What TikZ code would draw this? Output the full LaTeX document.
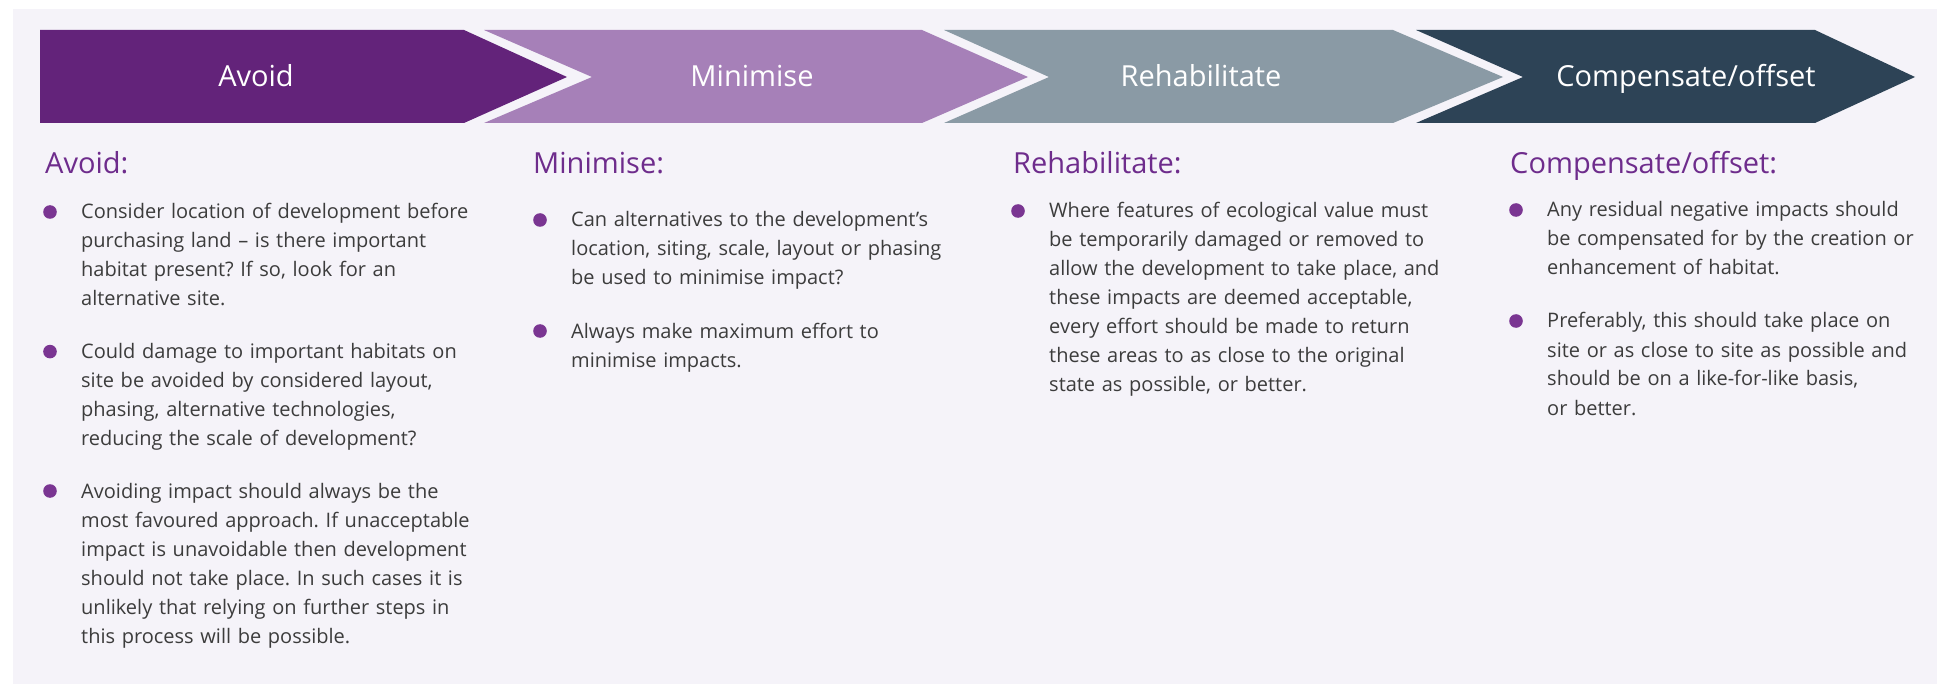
\documentclass[tikz,border=0pt]{standalone}
\usepackage{fontspec}
\setmainfont{Open Sans}
\usepackage{tikz}
\frenchspacing

\definecolor{panelc}{HTML}{F5F3F9}
\definecolor{avoidc}{HTML}{63237A}
\definecolor{minic}{HTML}{A680B8}
\definecolor{rehabc}{HTML}{8A9AA5}
\definecolor{offsetc}{HTML}{2D4356}
\definecolor{headc}{HTML}{6E2C8C}
\definecolor{bodyc}{HTML}{3C3C3C}
\definecolor{dotc}{HTML}{7A3592}

\begin{document}
\begin{tikzpicture}[x=1pt,y=-1pt,
    stage/.style={anchor=base,text=white,inner sep=0pt,font=\fontsize{29}{34}\selectfont},
    head/.style={anchor=base west,inner sep=0pt,text=headc,font=\fontsize{29}{34}\selectfont},
    item/.style={anchor=base west,inner sep=0pt,align=left,text width=480pt,text=bodyc,font=\fontsize{20}{29}\selectfont},
    dot/.style={fill=dotc}]
    \useasboundingbox (0,0) rectangle (1937,684);
    \fill[white] (0,0) rectangle (1937,684);
    \fill[panelc] (13,9) rectangle (1937,684);

    % the four steps
    \fill[avoidc] (40,30) -- (464,30) -- (567,77) -- (464,123) -- (40,123) -- cycle;
    \fill[minic] (484,30) -- (922,30) -- (1028,77) -- (922,123) -- (484,123) -- (592,77) -- cycle;
    \fill[rehabc] (944,30) -- (1393,30) -- (1503,77) -- (1393,123) -- (944,123) -- (1049,77) -- cycle;
    \fill[offsetc] (1416,30) -- (1815,30) -- (1915,77) -- (1815,123) -- (1416,123) -- (1523,77) -- cycle;
    \node [stage] (avoid) at (256,87) {Avoid};
    \node [stage] (minimise) at (752,87) {Minimise};
    \node [stage] (rehab) at (1201,87) {Rehabilitate};
    \node [stage] (offset) at (1686,87) {Compensate/offset};

    % headings
    \node [head] (havoid) at (45,174) {Avoid:};
    \node [head] (hminimise) at (533,174) {Minimise:};
    \node [head] (hrehab) at (1013,174) {Rehabilitate:};
    \node [head] (hoffset) at (1510,174) {Compensate/offset:};

    % bullet points
    \node [item] (av1) at (81,219) {Consider location of development before\\
        purchasing land -- is there important\\
        habitat present? If so, look for an\\
        alternative site.};
    \node [item] (av2) at (81,358.6) {Could damage to important habitats on\\
        site be avoided by considered layout,\\
        phasing, alternative technologies,\\
        reducing the scale of development?};
    \node [item] (av3) at (81,498) {Avoiding impact should always be the\\
        most favoured approach. If unacceptable\\
        impact is unavoidable then development\\
        should not take place. In such cases it is\\
        unlikely that relying on further steps in\\
        this process will be possible.};
    \node [item] (mi1) at (571,227) {Can alternatives to the development’s\\
        location, siting, scale, layout or phasing\\
        be used to minimise impact?};
    \node [item] (mi2) at (571,338) {Always make maximum effort to\\
        minimise impacts.};
    \node [item] (re1) at (1049,218) {Where features of ecological value must\\
        be temporarily damaged or removed to\\
        allow the development to take place, and\\
        these impacts are deemed acceptable,\\
        every effort should be made to return\\
        these areas to as close to the original\\
        state as possible, or better.};
    \node [item] (co1) at (1547,217) {Any residual negative impacts should\\
        be compensated for by the creation or\\
        enhancement of habitat.};
    \node [item] (co2) at (1547,328) {Preferably, this should take place on\\
        site or as close to site as possible and\\
        should be on a like-for-like basis,\\
        or better.};

    \foreach \p in {av1,av2,av3,mi1,mi2,re1,co1,co2}
        \fill[dot] ([xshift=-31pt,yshift=7pt]\p.base west) circle (6.8pt);
\end{tikzpicture}
\end{document}
